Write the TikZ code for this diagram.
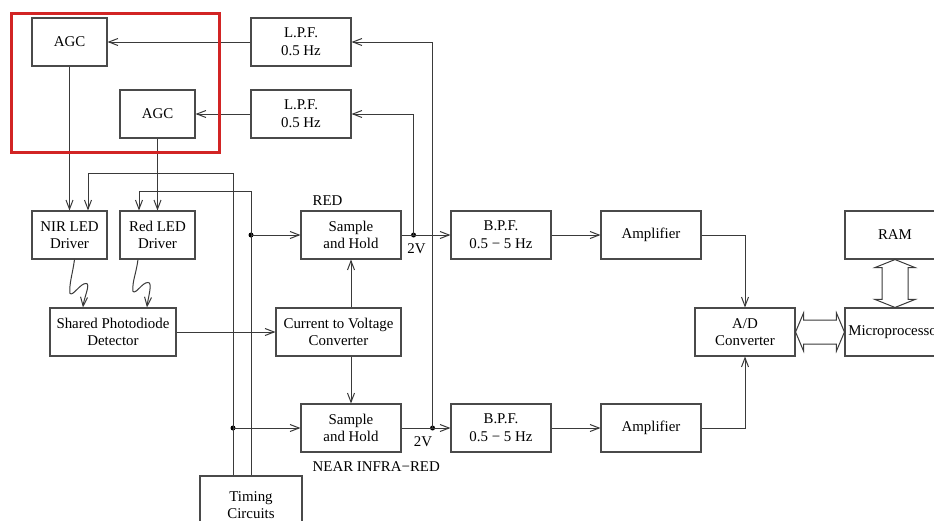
\documentclass[tikz,border=0pt]{standalone}
\usepackage{fontspec}
\setmainfont{Liberation Serif}
\usetikzlibrary{positioning, calc, arrows.meta}
\definecolor{LineGray}{HTML}{3A3A3A}
\definecolor{BoxGray}{HTML}{4A4A4A}
\definecolor{FrameRed}{HTML}{D22424}

\begin{document}
\begin{tikzpicture}[
    x=1pt, y=-1pt,
    font=\fontsize{14.9}{17.6}\selectfont,
    block/.style={rectangle, draw=BoxGray, line width=1.1pt, minimum width=100pt, minimum height=48pt, align=center, inner sep=2pt},
    narrow/.style={block, minimum width=75pt},
    wire/.style={draw=LineGray, line width=1pt},
    conn/.style={wire, -{Straight Barb[length=9pt,width=7pt]}},
    dot/.style={circle, fill=black, inner sep=0pt, minimum size=5pt}
  ]
    \clip (0,0) rectangle (934,520);
    \fill[white] (0,0) rectangle (934,520);

    % Nodes
    \node[narrow] (agc1) at (69.5,42) {AGC};
    \node[narrow] (agc2) at (157.5,114) {AGC};
    \node[block] (lpf1) at (301,42) {L.P.F.\\0.5 Hz};
    \node[block] (lpf2) at (301,114) {L.P.F.\\0.5 Hz};
    \node[narrow] (nirdrv) at (69.5,235) {NIR LED\\Driver};
    \node[narrow] (reddrv) at (157.5,235) {Red LED\\Driver};
    \node[block] (shred) at (351,235) {Sample\\and Hold};
    \node[block] (bpfr) at (501,235) {B.P.F.\\0.5 − 5 Hz};
    \node[block] (ampr) at (651,235) {Amplifier};
    \node[block] (ram) at (895,235) {RAM};
    \node[block, minimum width=126pt] (pd) at (113,332) {Shared Photodiode\\Detector};
    \node[block, minimum width=125pt] (cv) at (338.5,332) {Current to Voltage\\Converter};
    \node[block] (ad) at (745,332) {A/D\\Converter};
    \node[block] (micro) at (895,332) {Microprocessor};
    \node[block] (shnir) at (351,428) {Sample\\and Hold};
    \node[block] (bpfn) at (501,428) {B.P.F.\\0.5 − 5 Hz};
    \node[block] (ampn) at (651,428) {Amplifier};
    \node[block, minimum width=102pt, minimum height=58pt] (timing) at (251,505) {Timing\\Circuits};

    % Labels
    \node[anchor=south west, inner sep=0pt] (redlbl) at ($(shred.north west)+(12,-5)$) {RED};
    \node[anchor=north west, inner sep=0pt] (nirlbl) at ($(shnir.south west)+(12,9)$) {NEAR INFRA−RED};
    \node (vred) at ($(shred.south east)+(15,-11)$) {2V};
    \node (vnir) at ($(shnir.south east)+(21.5,-11)$) {2V};

    % Junctions
    \node[dot] (jred) at ($(shred.east)+(12,0)$) {};
    \node[dot] (jnir) at ($(shnir.east)+(31,0)$) {};
    \coordinate (tn) at ($(timing.north)+(-18,0)$);
    \node[dot] (tred) at (timing.north |- shred.west) {};
    \node[dot] (tnir) at (tn |- shnir.west) {};

    % Feedback loops
    \draw[conn] (lpf1) -- (agc1);
    \draw[conn] (lpf2) -- (agc2);
    \draw[conn] (jnir.center) |- (lpf1.east);
    \draw[conn] (jred.center) |- (lpf2.east);
    \draw[conn] (agc1) -- (nirdrv);
    \draw[conn] (agc2) -- (reddrv);

    % Timing lines
    \draw[conn] (tn) |- ($(nirdrv.north)+(18.5,-37)$) -- ($(nirdrv.north)+(18.5,0)$);
    \draw[conn] (timing.north) |- ($(reddrv.north)+(-18.5,-19)$) -- ($(reddrv.north)+(-18.5,0)$);
    \draw[conn] (tred.center) -- (shred.west);
    \draw[conn] (tnir.center) -- (shnir.west);

    % Light from the LEDs
    \draw[conn] ($(nirdrv.south)+(5,0)$) .. controls +(-2,15) and +(-1,-10) .. ($(pd.north)+(-43,-14)$)
        .. controls +(3,3) and +(-6,0) .. ($(pd.north)+(-27,-24)$)
        .. controls +(5,0) and +(1,-10) .. ($(pd.north)+(-30,0)$);
    \draw[conn] ($(reddrv.south)+(-19.5,0)$) .. controls +(-2,15) and +(-1,-10) .. ($(pd.north)+(20,-16)$)
        .. controls +(3,3) and +(-6,0) .. ($(pd.north)+(35,-25)$)
        .. controls +(5,0) and +(1,-10) .. ($(pd.north)+(34,0)$);

    % Signal path
    \draw[conn] (pd) -- (cv);
    \draw[conn] (cv.north -| shred.south) -- (shred.south);
    \draw[conn] (cv.south -| shnir.north) -- (shnir.north);
    \draw[conn] (shred) -- (bpfr);
    \draw[conn] (shnir) -- (bpfn);
    \draw[conn] (bpfr) -- (ampr);
    \draw[conn] (bpfn) -- (ampn);
    \draw[conn] (ampr.east) -| (ad.north);
    \draw[conn] (ampn.east) -| (ad.south);

    % Buses
    \draw[wire] (ad.east) -- ++(8,-19) -- ++(0,7) -- ($(micro.west)+(-8,-12)$) -- ++(0,-7) -- (micro.west)
        -- ++(-8,19) -- ++(0,-7) -- ($(ad.east)+(8,12)$) -- ++(0,7) -- cycle;
    \draw[wire] (ram.south) -- ++(-20,8) -- ++(7,0) -- ($(micro.north)+(-13,-8)$) -- ++(-7,0) -- (micro.north)
        -- ++(20,-8) -- ++(-7,0) -- ($(ram.south)+(13,8)$) -- ++(7,0) -- cycle;

    % Highlight
    \draw[FrameRed, line width=3pt] (11.5,13.5) rectangle (219.5,152);
  \end{tikzpicture}
\end{document}
